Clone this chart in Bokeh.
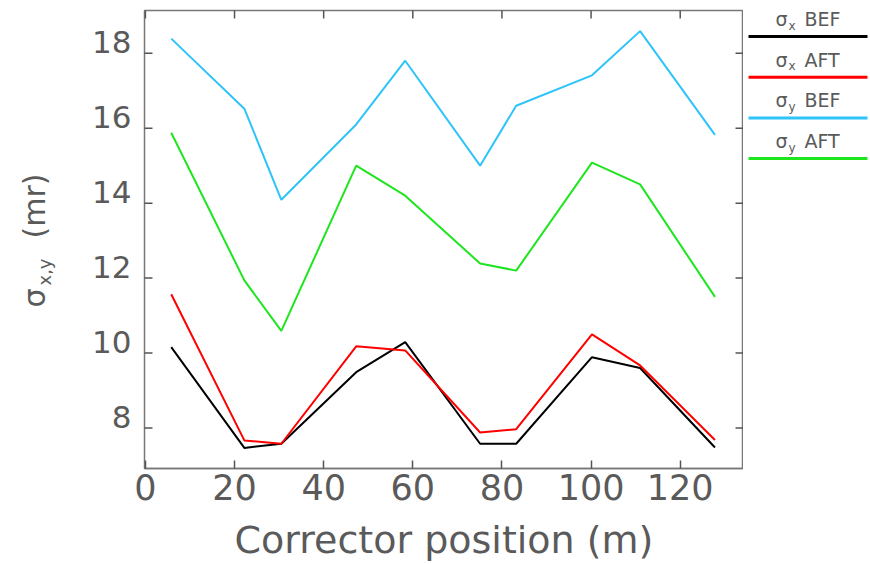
import numpy as np
from bokeh.plotting import figure
from bokeh.models import Range1d, FixedTicker, ColumnDataSource
from bokeh.layouts import row
from bokeh.embed import file_html
from bokeh.resources import INLINE
from bokeh.core.properties import value

# ---- data ----
positions = [5.8, 22.2, 30.5, 47.3, 58.3, 75.1, 83.2, 100.2, 111.0, 127.8]
sigx_bef = [10.16, 7.47, 7.58, 9.49, 10.29, 7.58, 7.58, 9.89, 9.60, 7.48]
sigx_aft = [11.57, 7.67, 7.58, 10.18, 10.07, 7.88, 7.97, 10.50, 9.67, 7.68]
sigy_bef = [18.39, 16.52, 14.09, 16.10, 17.80, 15.00, 16.60, 17.41, 18.59, 15.82]
sigy_aft = [15.88, 11.94, 10.59, 15.00, 14.20, 12.39, 12.20, 15.08, 14.50, 11.50]
series_names = ["sigx_bef", "sigx_aft", "sigy_bef", "sigy_aft"]
series_sub = ["x", "x", "y", "y"]
series_tag = ["BEF", "AFT", "BEF", "AFT"]
colors = ["#000000", "#ff0000", "#2ec4fa", "#1ee61e"]
x_ticks = [0, 20, 40, 60, 80, 100, 120]
y_ticks = [8, 10, 12, 14, 16, 18]
y_tick_labels = [str(t) for t in y_ticks]
x_title = "Corrector position (m)"
y_title_parts = ["σ", "x,y", "(mr)"]

X_MIN, X_MAX = -0.2, 134.2
Y_MIN, Y_MAX = 6.92, 19.14

FONT = "DejaVu Sans"
AX_COL = "#777777"
TICK_COL = "#555555"
TXT_COL = "#5a5a5a"
H = 564
TOP, BOTTOM = 10, 96          # borders shared by all three panels (frames get aligned)
LEFT_W, LEG_W = 132, 127
MAIN_LEFT = 12

src = ColumnDataSource(dict(x=positions, sigx_bef=sigx_bef, sigx_aft=sigx_aft,
                            sigy_bef=sigy_bef, sigy_aft=sigy_aft))
y_range = Range1d(Y_MIN, Y_MAX)

# ---- main plot ----
p = figure(width=870 - LEFT_W - LEG_W, height=H,
           x_range=Range1d(X_MIN, X_MAX), y_range=y_range,
           y_axis_type=None,
           output_backend="svg", toolbar_location=None,
           min_border_left=MAIN_LEFT, min_border_right=0,
           min_border_top=TOP, min_border_bottom=BOTTOM)
p.xgrid.visible = False
p.ygrid.visible = False
p.outline_line_color = AX_COL
p.outline_line_width = 1.5
p.background_fill_color = "white"
p.border_fill_color = "white"

for name, col in zip(series_names, colors):
    p.line("x", name, source=src, line_color=col, line_width=2)

xa = p.xaxis[0]
xa.ticker = FixedTicker(ticks=x_ticks)
xa.major_tick_in = 8
xa.major_tick_out = 0
xa.minor_tick_in = 0
xa.minor_tick_out = 0
xa.axis_line_color = AX_COL
xa.axis_line_width = 1.5
xa.major_tick_line_color = TICK_COL
xa.major_tick_line_width = 1.5
xa.major_label_text_font = FONT
xa.major_label_text_font_size = "35px"
xa.major_label_text_color = TXT_COL
xa.major_label_standoff = 5
xa.axis_label = x_title
xa.axis_label_text_font = FONT
xa.axis_label_text_font_size = "38px"
xa.axis_label_text_font_style = "normal"
xa.axis_label_text_color = TXT_COL
xa.axis_label_standoff = 15

# inward ticks on the top, left and right frame edges (half of each dash is clipped away)
p.scatter(x=x_ticks, y=[Y_MAX] * len(x_ticks), marker="dash", angle=np.pi / 2,
          size=16, line_color=TICK_COL, line_width=1.5)
p.scatter(x=[X_MAX] * len(y_ticks), y=y_ticks, marker="dash",
          size=16, line_color=TICK_COL, line_width=1.5)
p.scatter(x=[X_MIN] * len(y_ticks), y=y_ticks, marker="dash",
          size=16, line_color=TICK_COL, line_width=1.5)

# ---- left panel: y tick labels (on the data scale) and rotated y title ----
# default y coordinate = pixels up from the bottom of the page
yl = figure(width=LEFT_W, height=H, x_range=Range1d(0, LEFT_W),
            y_range=Range1d(BOTTOM, H - TOP),
            output_backend="svg", toolbar_location=None,
            x_axis_type=None, y_axis_type=None,
            min_border_left=0, min_border_right=0,
            min_border_top=TOP, min_border_bottom=BOTTOM)
yl.extra_y_ranges = {"val": y_range}
yl.outline_line_color = None
yl.xgrid.visible = False
yl.ygrid.visible = False
# tick labels sit on the tick (digits above it), as in the reference
yl.text(x=[131] * len(y_ticks), y=y_ticks, text=y_tick_labels, y_range_name="val",
        y_offset=-11, text_font=value(FONT), text_font_size=value("31px"),
        text_color=TXT_COL, text_align="right", text_baseline="middle")
yl.text(x=[34, 44, 34], y=[H - 307, H - 285, H - 238], text=y_title_parts,
        angle=np.pi / 2, text_font=value(FONT),
        text_font_size=["30px", "18px", "30px"], text_color=TXT_COL,
        text_align="left", text_baseline="middle")

# ---- legend panel on the right ----
# y coordinate = pixels down from the top of the page
lg = figure(width=LEG_W, height=H, x_range=Range1d(0, LEG_W), y_range=Range1d(H - BOTTOM, TOP),
            output_backend="svg", toolbar_location=None,
            x_axis_type=None, y_axis_type=None,
            min_border_left=0, min_border_right=0,
            min_border_top=TOP, min_border_bottom=BOTTOM)
lg.outline_line_color = None
lg.xgrid.visible = False
lg.ygrid.visible = False

line_y = [36 + 40.7 * i for i in range(4)]
text_y = [yy - 17.5 for yy in line_y]
sub_y = [yy - 11 for yy in line_y]
lg.segment(x0=[5] * 4, y0=line_y, x1=[124] * 4, y1=line_y, line_color=colors, line_width=3)
lg.text(x=[32] * 4, y=text_y, text=["σ"] * 4, text_font=value(FONT),
        text_font_size=value("19px"), text_color=TXT_COL, text_baseline="middle")
lg.text(x=[45] * 4, y=sub_y, text=series_sub, text_font=value(FONT),
        text_font_size=value("12px"), text_color=TXT_COL, text_baseline="middle")
lg.text(x=[61] * 4, y=text_y, text=series_tag, text_font=value(FONT),
        text_font_size=value("19px"), text_color=TXT_COL, text_baseline="middle")

layout = row(yl, p, lg)
open("out.html", "w").write(file_html(layout, INLINE))
